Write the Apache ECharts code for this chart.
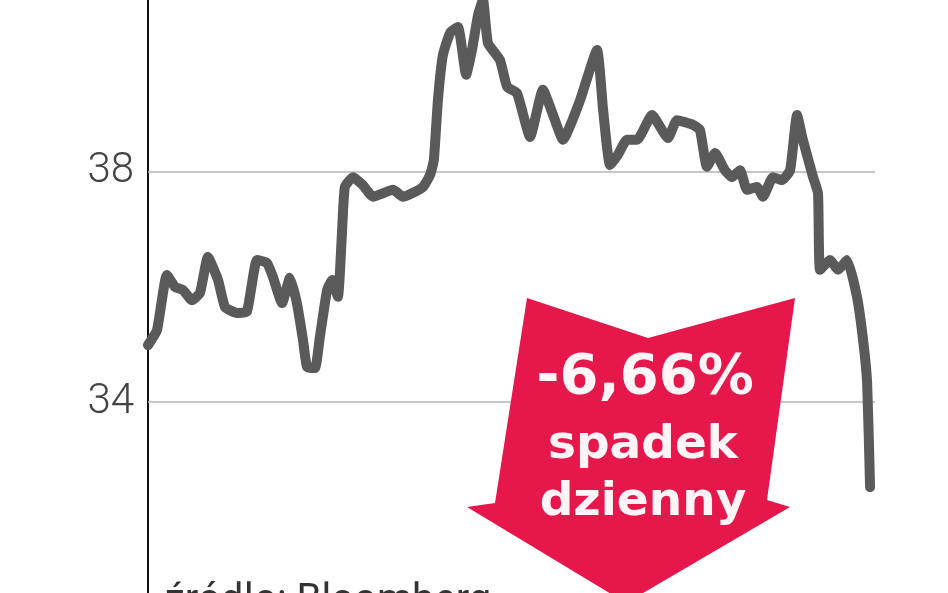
<!DOCTYPE html>
<html>
<head>
<meta charset="utf-8">
<script src="https://cdn.jsdelivr.net/npm/echarts@6/dist/echarts.min.js"></script>
<style>
html,body{margin:0;padding:0;background:#fff;}
#c{width:948px;height:593px;}
</style>
</head>
<body>
<div id="c"></div>
<script>
// trading-day index (approx.) and closing price
const days = [0,3.1,6.5,9.3,12.0,15.1,17.9,20.6,24.1,26.5,30.6,34.0,37.5,40.9,43.0,46.1,48.8,51.2,53.3,54.7,57.4,59.1,61.6,63.3,65.3,66.7,67.7,70.5,73.9,77.4,84.3,87.7,90.8,94.6,97.0,98.3,99.7,101.4,103.9,106.6,109.4,111.4,113.5,115.2,116.9,121.0,123.5,126.9,131.4,135.8,139.3,142.7,148.6,154.4,156.5,158.9,161.6,164.7,168.2,173.3,178.8,181.9,187.4,189.8,192.2,195.0,198.4,200.8,203.6,206.0,209.4,211.5,214.9,218.0,220.8,223.2,225.2,228.7,230.4,231.1,234.5,237.3,240.4,243.8,245.9,247.3,248.3];
const prices = [34.99,35.25,36.21,36.00,35.95,35.77,35.90,36.52,36.12,35.65,35.55,35.57,36.47,36.42,36.17,35.72,36.16,35.72,35.08,34.61,34.59,35.13,35.95,36.12,35.83,36.94,37.74,37.91,37.77,37.57,37.69,37.57,37.63,37.74,37.95,38.21,39.25,40.03,40.42,40.52,39.69,40.12,40.73,40.99,40.24,39.95,39.48,39.37,38.61,39.43,38.99,38.56,39.25,40.12,39.08,38.12,38.30,38.56,38.56,38.99,38.59,38.90,38.82,38.73,38.09,38.33,38.03,37.91,38.03,37.69,37.74,37.57,37.91,37.86,38.03,38.99,38.56,37.91,37.63,36.30,36.47,36.30,36.47,35.83,35.08,34.33,32.52];
const yTicks = [34, 38];
const yMin = 30.68, yMax = 40.99;
const changeLabel = '-6,66%';
const noteLines = ['spadek', 'dzienny'];
const sourceText = 'źródło: Bloomberg';

const chart = echarts.init(document.getElementById('c'), null, {renderer: 'canvas'});
const seriesData = days.map((d, i) => [d, prices[i]]);

chart.setOption({
  animation: false,
  backgroundColor: '#ffffff',
  grid: {left: 148, right: 73, top: 0, bottom: 0, containLabel: false},
  xAxis: {
    type: 'value', min: 0, max: 250,
    show: false
  },
  yAxis: {
    type: 'value', min: yMin, max: yMax,
    axisLine: {show: true, lineStyle: {color: '#111', width: 2}},
    axisTick: {show: false},
    splitLine: {show: false},
    axisLabel: {
      customValues: yTicks,
      margin: 14,
      fontFamily: 'Roboto', fontWeight: 300, fontSize: 42, color: '#444',
      formatter: v => String(v)
    }
  },
  series: [{
    type: 'line',
    data: seriesData,
    showSymbol: false,
    smooth: 0.15,
    lineStyle: {color: '#5a5a5a', width: 10, cap: 'round', join: 'round'},
    z: 3,
    markLine: {
      silent: true,
      symbol: 'none',
      label: {show: false},
      lineStyle: {color: '#b4b4b4', width: 1.5, type: 'solid'},
      z: 1,
      data: yTicks.map(v => ({yAxis: v}))
    }
  }],
  graphic: [
    {
      type: 'polygon', z: 10,
      shape: {points: [[527,298],[648,338],[795,298],[767,500],[790,507],[626,603],[467,507],[495,503]]},
      style: {fill: '#e5174b'}
    },
    {
      type: 'text', z: 11, x: 645, y: 378,
      style: {text: changeLabel, fill: '#fff4f6', font: 'bold 56px "DejaVu Sans"', align: 'center', verticalAlign: 'middle'}
    },
    {
      type: 'text', z: 11, x: 643, y: 446,
      style: {text: noteLines[0], fill: '#fff4f6', font: 'bold 47px "DejaVu Sans"', align: 'center', verticalAlign: 'middle'}
    },
    {
      type: 'text', z: 11, x: 643, y: 503,
      style: {text: noteLines[1], fill: '#fff4f6', font: 'bold 47px "DejaVu Sans"', align: 'center', verticalAlign: 'middle'}
    },
    {
      type: 'text', z: 9, x: 165, y: 602,
      style: {text: sourceText, fill: '#333', font: '40px Roboto', align: 'left', verticalAlign: 'middle'}
    }
  ]
});
</script>
</body>
</html>
